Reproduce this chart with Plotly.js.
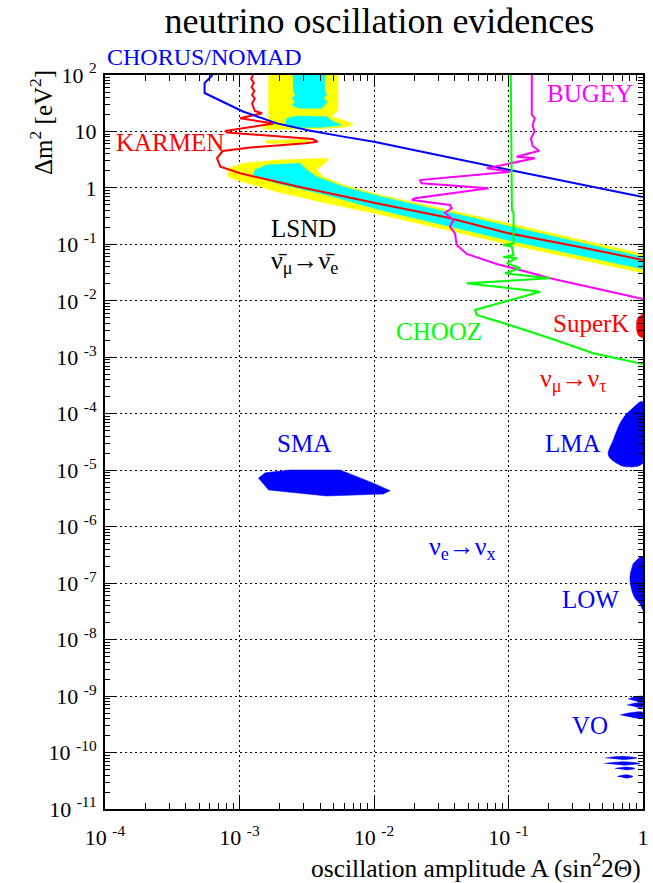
<!DOCTYPE html>
<html>
<head>
<meta charset="utf-8">
<script src="https://cdn.plot.ly/plotly-3.0.1.min.js"></script>
<style>html,body{margin:0;padding:0;background:#fff;}#chart{width:653px;height:883px;}</style>
</head>
<body>
<div id="chart"></div>
<script>
// ---- data (sin^2 2theta, delta m^2 in eV^2) ----
const CHORUS_x = [6.3e-4, 5.5e-4, 5.5e-4, 1.06e-3, 1.9e-3, 3.3e-3, 5.9e-3, 1.0e-2, 0.10, 1.0];
const CHORUS_y = [100, 72, 48, 22.6, 13.9, 10.4, 8.1, 6.6, 2.1, 0.69];

const KARMEN_x = [1.26e-3,1.22e-3,1.28e-3,1.23e-3,1.29e-3,1.24e-3,1.30e-3,1.24e-3,1.30e-3,1.47e-3,1.01e-3,1.80e-3,7.8e-4,8.1e-4,3.5e-3,3.8e-3,3.1e-3,1.2e-3,7.5e-4,6.8e-4,7.2e-4,1.01e-3,2.8e-3,1.02e-2,3.5e-2,9.8e-2,0.31,1.0];
const KARMEN_y = [100,85,72,61,52,44,38,31.5,23,21,17.1,13.8,10.2,9.6,7.35,6.6,6.2,5.2,4.5,3.35,2.38,1.82,1.04,0.54,0.30,0.159,0.094,0.053];

const BUGEY_x = [0.149,0.149,0.157,0.151,0.156,0.147,0.151,0.169,0.115,0.157,0.069,0.103,0.022,0.0226,0.071,0.0202,0.0191,0.0367,0.0378,0.0337,0.0389,0.0367,0.040,0.0412,0.0489,0.0817,0.122,0.204,1.0];
const BUGEY_y = [100,19.6,17.1,13.0,9.9,7.57,5.53,4.56,3.57,3.35,2.23,1.94,1.38,1.21,0.985,0.655,0.611,0.498,0.436,0.364,0.270,0.206,0.157,0.0975,0.0676,0.0449,0.0352,0.0251,0.0108];

const CHOOZ_x = [0.104,0.105,0.106,0.109,0.110,0.109,0.0915,0.106,0.109,0.0915,0.115,0.097,0.122,0.094,0.204,0.0489,0.172,0.0563,0.058,0.0708,0.103,0.204,0.427,1.0];
const CHOOZ_y = [100,4.69,0.406,0.355,0.137,0.1045,0.0975,0.091,0.0648,0.0591,0.0574,0.0462,0.0377,0.0307,0.0251,0.0205,0.0145,0.0069,0.0056,0.0049,0.0037,0.00217,0.00118,0.00076];

// LSND allowed regions: yellow = outer, cyan = inner
const LSND_Y1_x = [1.64e-3, 5.4e-3, 5.4e-3, 4.85e-3, 5.9e-3, 7.0e-3, 6.3e-3, 4.0e-3, 1.50e-3, 1.49e-3, 1.64e-3];
const LSND_Y1_y = [100, 100, 24, 18.3, 16, 13.4, 12.1, 11.2, 10.9, 13, 16];
const LSND_Y2_x = [8.25e-4, 1.07e-3, 1.89e-3, 4.57e-3, 4.45e-3, 3.75e-3, 4.2e-3, 5.9e-3, 1.11e-2, 9.75e-2, 1.0, 1.0, 9.75e-2, 1.11e-2, 4.45e-3, 1.89e-3, 9.5e-4, 8.25e-4];
const LSND_Y2_y = [2.23, 2.73, 3.12, 3.35, 2.91, 2.08, 1.58, 1.13, 0.75, 0.239, 0.0676, 0.0311, 0.1016, 0.338, 0.534, 0.857, 1.38, 1.58];
const LSND_Y3_x = [1.55e-3, 3.16e-3, 3.34e-3, 2.66e-3, 1.59e-3];
const LSND_Y3_y = [6.86, 7.26, 6.59, 6.17, 6.17];
const LSND_C1_x = [2.5e-3, 4.3e-3, 4.3e-3, 4.45e-3, 4.2e-3, 4.5e-3, 4.3e-3, 4.1e-3, 2.75e-3, 2.45e-3, 2.6e-3, 2.45e-3, 2.6e-3, 2.5e-3];
const LSND_C1_y = [100, 100, 54, 44, 38.7, 33.7, 29.4, 25.7, 25.7, 29.4, 33.7, 38.7, 44, 54];
const LSND_C2_x = [2.24e-3, 2.66e-3, 4.45e-3, 5.0e-3, 5.75e-3, 4.2e-3, 2.37e-3, 2.18e-3];
const LSND_C2_y = [17.1, 18.8, 18.3, 14.9, 13.0, 11.85, 11.85, 13.9];
const LSND_C3_x = [1.30e-3, 1.59e-3, 2.82e-3, 3.16e-3, 3.75e-3, 5.9e-3, 1.11e-2, 9.75e-2, 1.0, 1.0, 9.75e-2, 1.11e-2, 4.45e-3, 1.89e-3, 1.27e-3];
const LSND_C3_y = [2.08, 2.55, 2.73, 2.08, 1.58, 1.05, 0.705, 0.216, 0.0598, 0.0366, 0.1196, 0.406, 0.749, 1.21, 1.69];

const SUPERK_x = [1.0, 0.934, 0.902, 0.895, 0.902, 0.934, 1.0];
const SUPERK_y = [0.00585, 0.00528, 0.00458, 0.00358, 0.0028, 0.00238, 0.0022];

const SMA_x = [1.38e-3, 1.55e-3, 2.37e-3, 5.6e-3, 9.9e-3, 1.32e-2, 1.17e-2, 4.45e-3, 1.64e-3];
const SMA_y = [7.2e-6, 9.0e-6, 1.01e-5, 1.01e-5, 5.9e-6, 4.34e-6, 3.79e-6, 3.5e-6, 4.47e-6];

const LMA_x = [0.923, 1.0, 1.0, 0.756, 0.637, 0.552, 0.601, 0.675, 0.756];
const LMA_y = [1.57e-4, 1.63e-4, 1.34e-5, 1.15e-5, 1.33e-5, 1.86e-5, 3.43e-5, 6.8e-5, 1.02e-4];

const LOW_x = [0.923, 1.0, 1.0, 0.95, 0.872, 0.824, 0.80, 0.847];
const LOW_y = [2.75e-7, 2.94e-7, 3.34e-8, 4.27e-8, 5.39e-8, 7.56e-8, 1.30e-7, 2.25e-7];

const VO_x = [0.774,0.902,1,1,0.902,null, 0.760,0.887,1,1,0.887,null, 0.675,0.828,1,1,0.828,null,
              0.522,0.698,0.902,0.698,null, 0.513,0.71,0.95,0.71,null, 0.619,0.747,0.872,0.747,null, 0.641,0.747,0.843,0.747];
const VO_y = [8.87e-10,9.82e-10,9.82e-10,8.01e-10,8.01e-10,null, 6.95e-10,7.54e-10,7.54e-10,6.40e-10,6.40e-10,null, 4.62e-10,5.12e-10,5.12e-10,4.17e-10,4.17e-10,null,
              8.0e-11,8.57e-11,8.0e-11,7.46e-11,null, 6.39e-11,6.85e-11,6.39e-11,5.96e-11,null, 5.21e-11,5.54e-11,5.21e-11,4.90e-11,null, 3.76e-11,4.03e-11,3.76e-11,3.51e-11];

const X_TICKS = [1e-4, 1e-3, 1e-2, 1e-1, 1];
const X_LABELS = ["10\u00a0<sup>-4</sup>", "10\u00a0<sup>-3</sup>", "10\u00a0<sup>-2</sup>", "10\u00a0<sup>-1</sup>", "1"];
const Y_TICKS = [1e-11,1e-10,1e-9,1e-8,1e-7,1e-6,1e-5,1e-4,1e-3,1e-2,1e-1,1,10,100];
const Y_LABELS = ["10\u00a0<sup>-11</sup>","10\u00a0<sup>-10</sup>","10\u00a0<sup>-9</sup>","10\u00a0<sup>-8</sup>","10\u00a0<sup>-7</sup>","10\u00a0<sup>-6</sup>","10\u00a0<sup>-5</sup>","10\u00a0<sup>-4</sup>","10\u00a0<sup>-3</sup>","10\u00a0<sup>-2</sup>","10\u00a0<sup>-1</sup>","1","10","10\u00a0<sup>2</sup>"];

// ---- styling ----
const BLUE = "#0000ff", RED = "#ff0000", MAG = "#ff00ff", GRN = "#00ff00", YEL = "#ffff00", CYA = "#00ffff";
const FONT = "Liberation Serif";

function minorTicks(lo, hi) {
  const v = [];
  for (let e = lo; e < hi; e++) for (let k = 2; k <= 9; k++) v.push(k * Math.pow(10, e));
  return v;
}
function area(x, y, color, shape) {
  return {x, y, type: "scatter", mode: "lines", fill: "toself", fillcolor: color,
          line: {color, width: 0.5, shape: shape || "linear"}, hoverinfo: "skip", showlegend: false};
}
function curve(x, y, color) {
  return {x, y, type: "scatter", mode: "lines", line: {color, width: 2}, hoverinfo: "skip", showlegend: false};
}

const traces = [
  area(LSND_Y1_x, LSND_Y1_y, YEL),
  area(LSND_Y2_x, LSND_Y2_y, YEL),
  area(LSND_Y3_x, LSND_Y3_y, YEL),
  area(LSND_C1_x, LSND_C1_y, CYA),
  area(LSND_C2_x, LSND_C2_y, CYA),
  area(LSND_C3_x, LSND_C3_y, CYA),
  curve(KARMEN_x, KARMEN_y, RED),
  curve(CHORUS_x, CHORUS_y, BLUE),
  curve(BUGEY_x, BUGEY_y, MAG),
  curve(CHOOZ_x, CHOOZ_y, GRN),
  area(SUPERK_x, SUPERK_y, RED, "spline"),
  area(SMA_x, SMA_y, BLUE),
  area(LMA_x, LMA_y, BLUE, "spline"),
  area(LOW_x, LOW_y, BLUE, "spline"),
  area(VO_x, VO_y, BLUE, "spline")
];

const axisCommon = {
  type: "log", ticks: "inside", tickcolor: "#000", tickwidth: 1,
  showline: true, linecolor: "#000", linewidth: 2, mirror: "ticks",
  showgrid: true, gridcolor: "#000", gridwidth: 1, griddash: "2px,3px",
  zeroline: false, tickmode: "array",
  tickfont: {family: FONT, size: 22, color: "#000"}
};

function ann(text, xp, yp, color, size, extra) {
  return Object.assign({text, x: xp, y: yp, xref: "paper", yref: "paper", showarrow: false,
    xanchor: "center", yanchor: "middle", font: {family: FONT, size: size || 25, color}}, extra || {});
}

const layout = {
  width: 653, height: 883,
  margin: {l: 105, r: 10, t: 75, b: 74},
  paper_bgcolor: "#fff", plot_bgcolor: "#fff",
  showlegend: false,
  font: {family: FONT, color: "#000"},
  title: {text: "neutrino oscillation evidences", font: {family: FONT, size: 36, color: "#000"},
          x: 0.51, xref: "paper", y: 0.977, yref: "container", yanchor: "middle"},
  xaxis: Object.assign({}, axisCommon, {
    range: [-4, 0], tickvals: X_TICKS, ticktext: X_LABELS, ticklen: 12, ticklabelstandoff: 8,
    minor: {tickmode: "array", tickvals: minorTicks(-4, 0), ticks: "inside", ticklen: 6, tickcolor: "#000", showgrid: false}
  }),
  yaxis: Object.assign({}, axisCommon, {
    range: [-11, 2], tickvals: Y_TICKS, ticktext: Y_LABELS, ticklen: 10, ticklabelstandoff: 2,
    minor: {tickmode: "array", tickvals: minorTicks(-11, 2), ticks: "inside", ticklen: 5, tickcolor: "#000", showgrid: false}
  }),
  annotations: [
    ann("CHORUS/NOMAD", 0, 1.0245, BLUE, 24, {xanchor: "left"}),
    ann("KARMEN", 0.0167, 0.9074, RED, 25, {xanchor: "left"}),
    ann("BUGEY", 0.9024, 0.9748, MAG, 25),
    ann("LSND", 0.369, 0.7909, "#000", 25),
    ann("\u03bd\u0304<sub>\u03bc</sub>\u2192\u03bd\u0304<sub>e</sub>", 0.3699, 0.7452, "#000", 26),
    ann("CHOOZ", 0.6208, 0.6512, GRN, 25),
    ann("SuperK", 0.9033, 0.6608, RED, 25),
    ann("\u03bd<sub>\u03bc</sub>\u2192\u03bd<sub>\u03c4</sub>", 0.8717, 0.5845, RED, 26),
    ann("SMA", 0.369, 0.498, BLUE, 25),
    ann("LMA", 0.8708, 0.4986, BLUE, 25),
    ann("\u03bd<sub>e</sub>\u2192\u03bd<sub>x</sub>", 0.6636, 0.3556, BLUE, 26),
    ann("LOW", 0.9033, 0.2861, BLUE, 25),
    ann("VO", 0.9015, 0.1144, BLUE, 25),
    ann("\u0394m<sup>2</sup> [eV<sup>2</sup>]", -0.119, 0.936, "#000", 25, {textangle: -90}),
    ann("oscillation amplitude A (sin<sup>2</sup>2\u0398)", 1.0, -0.0777, "#000", 25.5, {xanchor: "right"})
  ]
};

Plotly.newPlot("chart", traces, layout, {staticPlot: true, displayModeBar: false});
</script>
</body>
</html>
